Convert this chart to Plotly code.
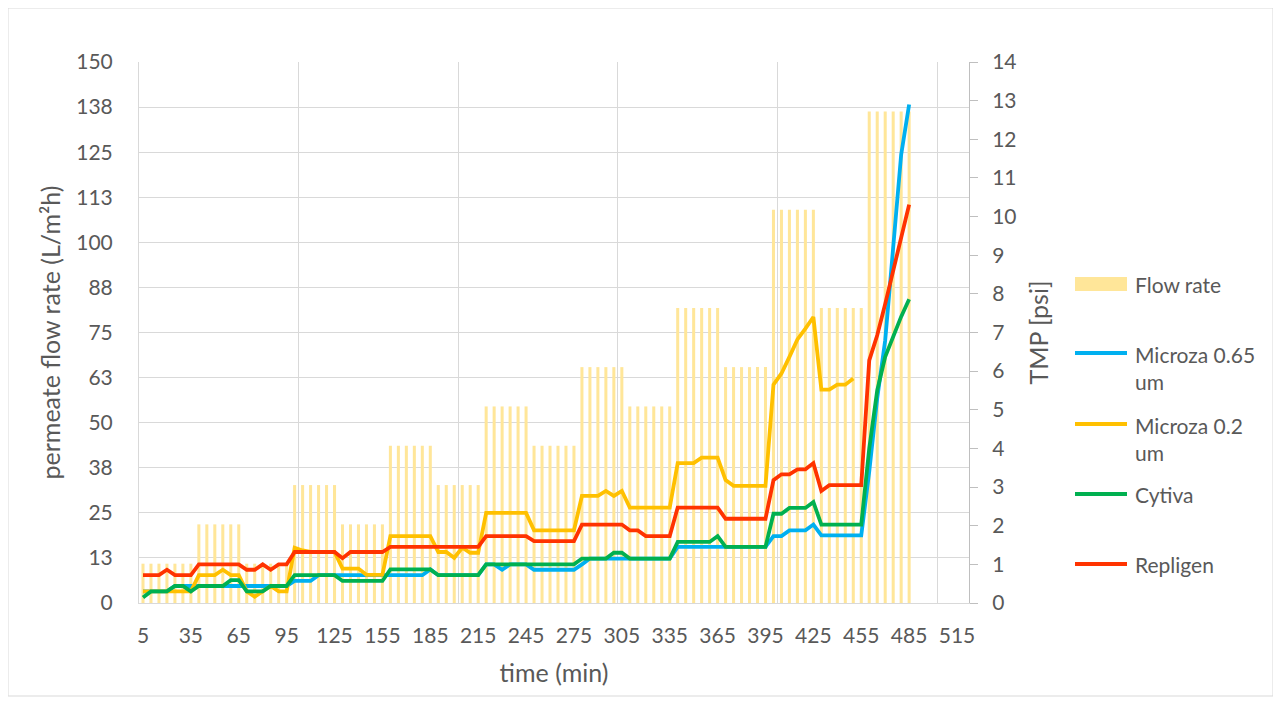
import plotly.graph_objects as go

# time categories (min), one bar / point every 5 min
time_min = list(range(5, 490, 5))
x_labels = list(range(5, 520, 30))

# permeate flow rate (L/m2h), one value per 5-min category
flow_rate = [
    10.9, 10.9, 10.9, 10.9, 10.9, 10.9, 10.9,
    21.8, 21.8, 21.8, 21.8, 21.8, 21.8,
    10.9, 10.9, 10.9, 10.9, 10.9, 10.9,
    32.7, 32.7, 32.7, 32.7, 32.7, 32.7,
    21.8, 21.8, 21.8, 21.8, 21.8, 21.8,
    43.6, 43.6, 43.6, 43.6, 43.6, 43.6,
    32.7, 32.7, 32.7, 32.7, 32.7, 32.7,
    54.5, 54.5, 54.5, 54.5, 54.5, 54.5,
    43.6, 43.6, 43.6, 43.6, 43.6, 43.6,
    65.4, 65.4, 65.4, 65.4, 65.4, 65.4,
    54.5, 54.5, 54.5, 54.5, 54.5, 54.5,
    81.8, 81.8, 81.8, 81.8, 81.8, 81.8,
    65.4, 65.4, 65.4, 65.4, 65.4, 65.4,
    109.0, 109.0, 109.0, 109.0, 109.0, 109.0,
    81.8, 81.8, 81.8, 81.8, 81.8, 81.8,
    136.3, 136.3, 136.3, 136.3, 136.3, 136.3,
]

# TMP (psi)
microza_065 = [
    0.30, 0.30, 0.30, 0.30, 0.44, 0.44, 0.44,
    0.44, 0.44, 0.44, 0.44, 0.44, 0.44,
    0.44, 0.44, 0.44, 0.44, 0.44, 0.44,
    0.57, 0.57, 0.57, 0.72, 0.72, 0.72,
    0.72, 0.72, 0.72, 0.72, 0.72, 0.72,
    0.72, 0.72, 0.72, 0.72, 0.72, 0.87,
    0.72, 0.72, 0.72, 0.72, 0.72, 0.72,
    1.00, 1.00, 0.86, 1.00, 1.00, 1.00,
    0.86, 0.86, 0.86, 0.86, 0.86, 0.86,
    1.00, 1.15, 1.15, 1.15, 1.15, 1.15,
    1.15, 1.15, 1.15, 1.15, 1.15, 1.15,
    1.45, 1.45, 1.45, 1.45, 1.45, 1.45,
    1.45, 1.45, 1.45, 1.45, 1.45, 1.45,
    1.73, 1.73, 1.88, 1.88, 1.88, 2.03,
    1.75, 1.75, 1.75, 1.75, 1.75, 1.75,
    3.40, 5.30, 6.80, 9.20, 11.60, 12.90,
]

microza_02 = [
    0.30, 0.30, 0.30, 0.30, 0.30, 0.30, 0.30,
    0.72, 0.72, 0.72, 0.86, 0.72, 0.72,
    0.30, 0.16, 0.30, 0.44, 0.30, 0.30,
    1.43, 1.36, 1.32, 1.32, 1.32, 1.32,
    0.89, 0.89, 0.89, 0.73, 0.73, 0.73,
    1.73, 1.73, 1.73, 1.73, 1.73, 1.73,
    1.32, 1.32, 1.17, 1.43, 1.30, 1.30,
    2.33, 2.33, 2.33, 2.33, 2.33, 2.33,
    1.88, 1.88, 1.88, 1.88, 1.88, 1.88,
    2.77, 2.77, 2.77, 2.90, 2.77, 2.90,
    2.47, 2.47, 2.47, 2.47, 2.47, 2.47,
    3.62, 3.62, 3.62, 3.76, 3.76, 3.76,
    3.18, 3.03, 3.03, 3.03, 3.03, 3.03,
    5.65, 5.94, 6.37, 6.82, 7.10, 7.40,
    5.52, 5.52, 5.65, 5.65, 5.81,
]

cytiva = [
    0.14, 0.30, 0.30, 0.30, 0.44, 0.44, 0.30,
    0.44, 0.44, 0.44, 0.44, 0.59, 0.59,
    0.30, 0.30, 0.30, 0.44, 0.44, 0.44,
    0.72, 0.72, 0.72, 0.72, 0.72, 0.72,
    0.57, 0.57, 0.57, 0.57, 0.57, 0.57,
    0.87, 0.87, 0.87, 0.87, 0.87, 0.87,
    0.72, 0.72, 0.72, 0.72, 0.72, 0.72,
    1.00, 1.00, 1.00, 1.00, 1.00, 1.00,
    1.00, 1.00, 1.00, 1.00, 1.00, 1.00,
    1.15, 1.15, 1.15, 1.15, 1.30, 1.30,
    1.15, 1.15, 1.15, 1.15, 1.15, 1.15,
    1.58, 1.58, 1.58, 1.58, 1.58, 1.73,
    1.45, 1.45, 1.45, 1.45, 1.45, 1.45,
    2.31, 2.31, 2.46, 2.46, 2.46, 2.61,
    2.03, 2.03, 2.03, 2.03, 2.03, 2.03,
    4.00, 5.50, 6.37, 6.89, 7.41, 7.86,
]

repligen = [
    0.72, 0.72, 0.72, 0.86, 0.72, 0.72, 0.72,
    1.00, 1.00, 1.00, 1.00, 1.00, 1.00,
    0.86, 0.86, 1.00, 0.86, 1.00, 1.00,
    1.32, 1.32, 1.32, 1.32, 1.32, 1.32,
    1.16, 1.32, 1.32, 1.32, 1.32, 1.32,
    1.45, 1.45, 1.45, 1.45, 1.45, 1.45,
    1.45, 1.45, 1.45, 1.45, 1.45, 1.45,
    1.73, 1.73, 1.73, 1.73, 1.73, 1.73,
    1.60, 1.60, 1.60, 1.60, 1.60, 1.60,
    2.03, 2.03, 2.03, 2.03, 2.03, 2.03,
    1.88, 1.88, 1.73, 1.73, 1.73, 1.73,
    2.47, 2.47, 2.47, 2.47, 2.47, 2.47,
    2.18, 2.18, 2.18, 2.18, 2.18, 2.18,
    3.18, 3.33, 3.33, 3.46, 3.46, 3.62,
    2.90, 3.05, 3.05, 3.05, 3.05, 3.05,
    6.28, 6.93, 7.74, 8.59, 9.45, 10.31,
]

flow_ticks = [0, 12.5, 25, 37.5, 50, 62.5, 75, 87.5, 100, 112.5, 125, 137.5, 150]
flow_ticktext = ['0', '13', '25', '38', '50', '63', '75', '88', '100', '113', '125', '138', '150']

series = [
    ('Microza 0.65<br>um', microza_065, '#00B0F0'),
    ('Microza 0.2<br>um', microza_02, '#FFC000'),
    ('Cytiva', cytiva, '#00B050'),
    ('Repligen', repligen, '#FF3300'),
]

GRID = '#D9D9D9'
TEXT = '#595959'
FONT = 'Lato, Calibri, sans-serif'

fig = go.Figure()

# Flow rate bars on the left axis
fig.add_trace(go.Bar(
    x=time_min, y=flow_rate,
    width=1.9,
    marker=dict(color='#FFE699', line_width=0),
    name='Flow rate'
))

# TMP lines on the right axis
for name, vals, color in series:
    fig.add_trace(go.Scatter(
        x=time_min[:len(vals)], y=vals,
        yaxis='y2', mode='lines',
        line=dict(color=color, width=3.8),
        name=name
    ))

# page pixels of the plot area (the figure itself sits 8 px in from the page corner)
OFF = 8
L, R, T, B = 139, 969, 62, 603
W, H = 1281 - OFF, 702 - OFF


def px(X):
    return (X - L) / (R - L)


def py(Y):
    return (B - Y) / (B - T)


shapes = [
    # chart area border
    dict(type='rect', xref='paper', yref='paper',
         x0=px(8), x1=px(1273), y0=py(8), y1=py(696),
         line=dict(color=GRID, width=1), layer='below'),
    # legend swatch: bar
    dict(type='rect', xref='paper', yref='paper',
         x0=px(1075), x1=px(1127), y0=py(291), y1=py(277),
         fillcolor='#FFE699', line_width=0),
]
annotations = [
    dict(text='Flow rate', x=px(1133), y=py(284), xref='paper', yref='paper',
         xanchor='left', yanchor='middle', showarrow=False, align='left'),
]
legend_rows = [(353, 368), (424, 439), (494, 494), (564, 564)]
for (name, vals, color), (sy, ty) in zip(series, legend_rows):
    shapes.append(dict(type='line', xref='paper', yref='paper',
                       x0=px(1075), x1=px(1127), y0=py(sy), y1=py(sy),
                       line=dict(color=color, width=3.8)))
    annotations.append(dict(text=name, x=px(1133), y=py(ty), xref='paper', yref='paper',
                            xanchor='left', yanchor='middle', showarrow=False, align='left'))

fig.update_layout(
    width=W, height=H,
    paper_bgcolor='white', plot_bgcolor='white',
    margin=dict(l=L - OFF, r=W - (R - OFF), t=T - OFF, b=H - (B - OFF)),
    font=dict(family=FONT, size=21, color=TEXT),
    showlegend=False,
    shapes=shapes,
    annotations=annotations,
    xaxis=dict(
        range=[2.5, 522.5],
        tickvals=x_labels,
        showgrid=False, zeroline=False,
        showline=True, linecolor=GRID, linewidth=1,
        ticks='', ticklabelstandoff=14,
        minor=dict(tickvals=[102.5, 202.5, 302.5, 402.5, 502.5],
                   showgrid=True, gridcolor=GRID, gridwidth=1, ticks=''),
        title=dict(text='time (min)', standoff=18),
    ),
    yaxis=dict(
        range=[0, 150],
        tickvals=flow_ticks, ticktext=flow_ticktext,
        showgrid=True, gridcolor=GRID, gridwidth=1,
        zeroline=False, showline=True, linecolor=GRID,
        ticks='', ticklabelstandoff=21,
        title=dict(text='permeate flow rate (L/m²h)', standoff=8),
    ),
    yaxis2=dict(
        range=[0, 14], dtick=1,
        overlaying='y', side='right',
        showgrid=False, zeroline=False,
        showline=True, linecolor='#BFBFBF',
        ticks='outside', ticklen=8, tickcolor='#BFBFBF',
        ticklabelstandoff=10,
        title=dict(text='TMP [psi]', standoff=14),
    ),
)

fig.write_html("out.html")
